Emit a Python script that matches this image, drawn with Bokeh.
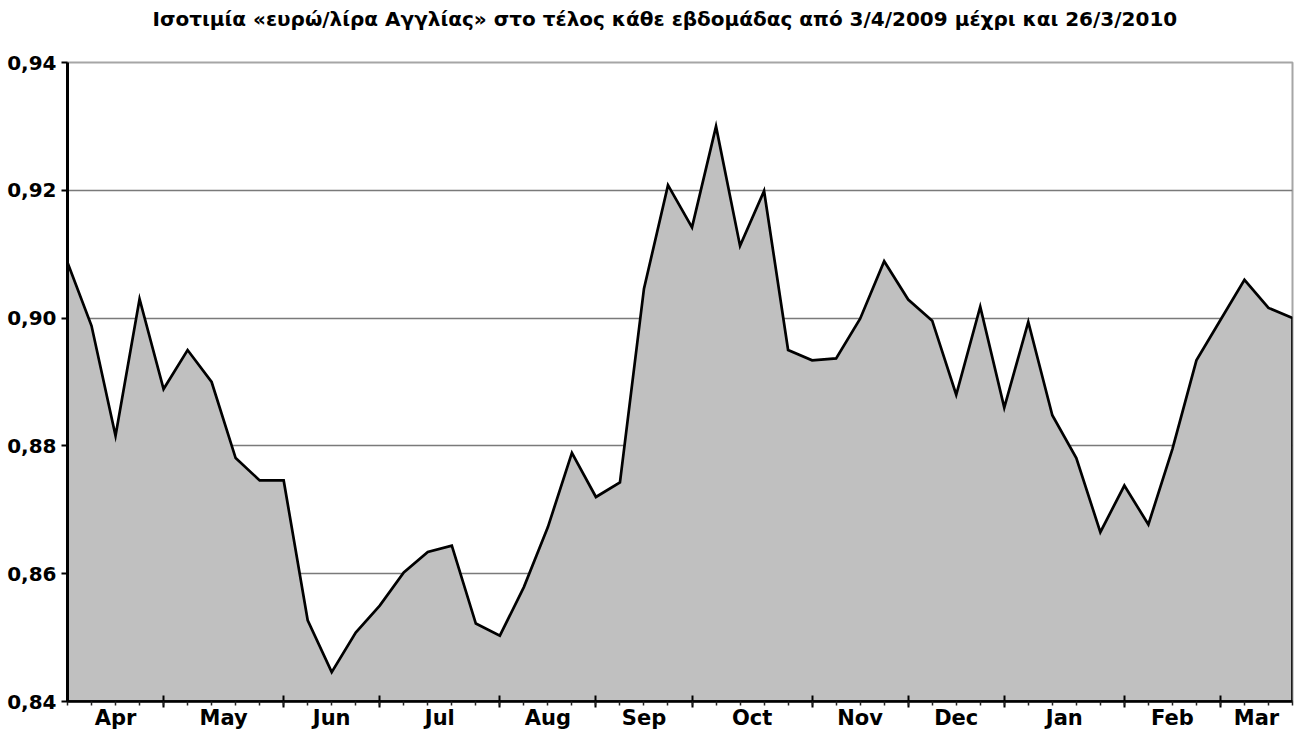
from bokeh.plotting import figure
from bokeh.models import Range1d, FixedTicker, LinearAxis, CustomJSTickFormatter
from bokeh.embed import file_html
from bokeh.resources import INLINE

title_text = "Ισοτιμία «ευρώ/λίρα Αγγλίας» στο τέλος κάθε εβδομάδας από 3/4/2009 μέχρι και 26/3/2010"

week_dates = [
    "2009-04-03", "2009-04-10", "2009-04-17", "2009-04-24",
    "2009-05-01", "2009-05-08", "2009-05-15", "2009-05-22", "2009-05-29",
    "2009-06-05", "2009-06-12", "2009-06-19", "2009-06-26",
    "2009-07-03", "2009-07-10", "2009-07-17", "2009-07-24", "2009-07-31",
    "2009-08-07", "2009-08-14", "2009-08-21", "2009-08-28",
    "2009-09-04", "2009-09-11", "2009-09-18", "2009-09-25",
    "2009-10-02", "2009-10-09", "2009-10-16", "2009-10-23", "2009-10-30",
    "2009-11-06", "2009-11-13", "2009-11-20", "2009-11-27",
    "2009-12-04", "2009-12-11", "2009-12-18", "2009-12-25",
    "2010-01-01", "2010-01-08", "2010-01-15", "2010-01-22", "2010-01-29",
    "2010-02-05", "2010-02-12", "2010-02-19", "2010-02-26",
    "2010-03-05", "2010-03-12", "2010-03-19", "2010-03-26",
]

eur_gbp = [
    0.9087, 0.8988, 0.8816, 0.9030,
    0.8889, 0.8950, 0.8900, 0.8781, 0.8746,
    0.8746, 0.8527, 0.8446, 0.8508,
    0.8550, 0.8602, 0.8634, 0.8644, 0.8522,
    0.8503, 0.8579, 0.8673, 0.8789,
    0.8720, 0.8743, 0.9046, 0.9208,
    0.9142, 0.9300, 0.9113, 0.9199, 0.8950,
    0.8934, 0.8937, 0.8999, 0.9089,
    0.9029, 0.8996, 0.8880, 0.9018,
    0.8860, 0.8994, 0.8848, 0.8781, 0.8665,
    0.8738, 0.8677, 0.8795, 0.8934,
    0.8997, 0.9060, 0.9016, 0.9000,
]

month_labels = ["Apr", "May", "Jun", "Jul", "Aug", "Sep", "Oct", "Nov", "Dec", "Jan", "Feb", "Mar"]

y_ticks = [0.84, 0.86, 0.88, 0.90, 0.92, 0.94]

# --- derived positions (from the data) ---
x = list(range(len(week_dates)))
months = [d[5:7] for d in week_dates]
starts = [i for i in x if i == 0 or months[i] != months[i - 1]]
edges = starts + [x[-1]]
centers = [(edges[k] + edges[k + 1]) / 2 for k in range(len(starts))]

FONT = "DejaVu Sans"

p = figure(
    frame_width=1225, frame_height=639,
    x_range=Range1d(x[0], x[-1]),
    y_range=Range1d(y_ticks[0], y_ticks[-1]),
    output_backend="svg", toolbar_location=None,
    min_border_left=67, min_border_right=2,
    min_border_top=62, min_border_bottom=0,
    background_fill_color="white", border_fill_color="white",
)

# area with outline
px = x + [x[-1], x[0]]
py = eur_gbp + [y_ticks[0], y_ticks[0]]
p.patch(px, py, fill_color="#c0c0c0", line_color="black", line_width=2.7, line_join="miter")

# grid / outline
p.xgrid.visible = False
p.ygrid.ticker = FixedTicker(ticks=y_ticks[1:-1])
p.ygrid.grid_line_color = "#7a7a7a"
p.ygrid.grid_line_width = 1.5
p.outline_line_color = "#a6a6a6"
p.outline_line_width = 2

# y axis
ya = p.yaxis[0]
ya.ticker = FixedTicker(ticks=y_ticks)
ya.formatter = CustomJSTickFormatter(code="return tick.toFixed(2).replace('.', ',');")
ya.axis_line_color = "black"
ya.axis_line_width = 3
ya.major_tick_line_color = "black"
ya.major_tick_line_width = 2
ya.major_tick_in = 0
ya.major_tick_out = 6
ya.minor_tick_line_color = None
ya.major_label_text_font = FONT
ya.major_label_text_font_style = "bold"
ya.major_label_text_font_size = "20px"
ya.major_label_text_color = "black"
ya.major_label_standoff = 5

# x tick axis (month boundaries + weekly minor ticks)
xa = p.xaxis[0]
xa.ticker = FixedTicker(ticks=starts[1:], minor_ticks=x)
xa.formatter = CustomJSTickFormatter(code="return '';")
xa.axis_line_color = "black"
xa.axis_line_width = 2.5
xa.major_tick_line_color = "black"
xa.major_tick_line_width = 2
xa.major_tick_in = 6
xa.major_tick_out = 6
xa.minor_tick_line_color = "#222222"
xa.minor_tick_line_width = 1.5
xa.minor_tick_in = 0
xa.minor_tick_out = 4
xa.major_label_text_font_size = "1px"
xa.major_label_standoff = 0

# x label axis (month names centred between boundaries)
la = LinearAxis(
    ticker=FixedTicker(ticks=centers, minor_ticks=[]),
    formatter=CustomJSTickFormatter(
        args=dict(centres=centers, names=month_labels),
        code="const i = centres.indexOf(tick); return i >= 0 ? names[i] : '';",
    ),
)
la.axis_line_color = None
la.major_tick_line_color = None
la.minor_tick_line_color = None
la.major_tick_in = 0
la.major_tick_out = 0
la.major_label_text_font = FONT
la.major_label_text_font_style = "bold"
la.major_label_text_font_size = "21px"
la.major_label_text_color = "black"
la.major_label_standoff = -2
p.add_layout(la, "below")

# title (a blank second line keeps the title near the top edge)
p.title.text = title_text + "\n "
p.title.text_font = FONT
p.title.text_font_style = "bold"
p.title.text_font_size = "20px"
p.title.text_color = "black"
p.title.align = "left"
p.title.offset = 85
p.title.vertical_align = "top"
p.title.standoff = 12

open("out.html", "w").write(file_html(p, INLINE))
